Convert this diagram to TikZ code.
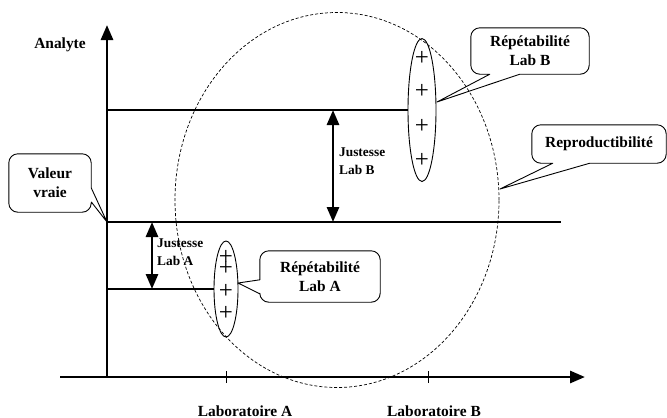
\documentclass[tikz,border=0pt]{standalone}
\usepackage{fontspec}
\setmainfont{Liberation Serif}
\usetikzlibrary{arrows.meta,positioning,calc,shapes.geometric}

\begin{document}
\begin{tikzpicture}[x=1bp, y=-1bp, font=\bfseries\fontsize{15.5}{19}\selectfont,
  axis/.style={line width=2.8bp, -{Triangle[width=12bp,length=15bp]}},
  lvl/.style={line width=1.4bp},
  just/.style={line width=2.8bp,
    {Triangle[width=12bp,length=15bp]}-{Triangle[width=12bp,length=15bp]}},
  jlbl/.style={font=\bfseries\fontsize{13.4}{17.5}\selectfont, align=left,
    anchor=west, inner sep=0pt},
  grp/.style={ellipse, draw, line width=0.9bp, inner sep=0pt},
  pt/.style={font=\fontsize{25}{25}\selectfont, inner sep=0pt},
  bubble/.style={align=center, inner sep=0pt},
  bline/.style={line width=0.9bp, line join=round},
]
\useasboundingbox (0,0) rectangle (667,417);

%% Reproducibility domain
\node[ellipse, draw, densely dashed, line width=0.7bp, minimum width=324bp,
  minimum height=375bp, inner sep=0pt] (repro) at (337,200) {};

%% Axes
\coordinate (O) at (107,377);
\coordinate (ytop) at (107,25);
\coordinate (xl) at (60,377);
\coordinate (xr) at (585,377);
\draw[axis] (O) -- (ytop);
\draw[axis] (xl) -- (xr);
\node (analyte) at (60,45) {Analyte};

%% Ticks and laboratories
\coordinate (tA) at (226,377);
\coordinate (tB) at (428,377);
\draw[line width=0.9bp] ($(tA)+(0,-6)$) -- ($(tA)+(0,6)$);
\draw[line width=0.9bp] ($(tB)+(0,-6)$) -- ($(tB)+(0,6)$);
\node[anchor=base] (labA) at (245,416) {Laboratoire A};
\node[anchor=base] (labB) at (434,416) {Laboratoire B};

%% True value
\coordinate (vv) at (107,222);
\coordinate (vvend) at (561,222);
\draw[line width=2.6bp] (vv) -- (vvend);

%% Lab B results
\node[grp, minimum width=28bp, minimum height=143bp] (ellB) at (422,110) {};
\foreach \y [count=\i] in {58,91,126,160}
  \node[pt] (pB\i) at (422,\y) {+};
\coordinate (mB) at (107,110);
\draw[lvl] (mB) -- (ellB.west);

%% Lab A results
\node[grp, minimum width=24bp, minimum height=96bp] (ellA) at (226,289) {};
\foreach \y [count=\i] in {257,268,291,313}
  \node[pt] (pA\i) at (226,\y) {+};
\coordinate (mA) at (107,289);
\draw[lvl] (mA) -- (ellA.west);

%% Trueness arrows
\coordinate (jB1) at (333,110);
\coordinate (jB2) at (333,222);
\draw[just] (jB1) -- (jB2);
\node[jlbl] (jlB) at (339,161) {Justesse\\Lab B};
\coordinate (jA1) at (152,222);
\coordinate (jA2) at (152,289);
\draw[just] (jA1) -- (jA2);
\node[jlbl] (jlA) at (157,252) {Justesse\\Lab A};

%% Callout: repeatability Lab B
\node[bubble, minimum width=118bp, minimum height=46bp] (repB) at (530,51)
  {Répétabilité\\Lab B};
\coordinate (tipB) at (437,102);
\draw[bline] ($(repB.south west)+(49,0)$) -- (tipB)
  -- ($(repB.south west)+(19,0)$) [rounded corners=9bp] -- (repB.south west)
  -- (repB.north west) -- (repB.north east) -- (repB.south east)
  -- ($(repB.south west)+(49,0)$);

%% Callout: reproducibility
\node[bubble, minimum width=134bp, minimum height=38bp] (reprod) at (599,144)
  {Reproductibilité};
\coordinate (tipR) at (500,189);
\draw[bline] ($(reprod.south west)+(58,0)$) -- (tipR)
  -- ($(reprod.south west)+(21,0)$) [rounded corners=9bp] -- (reprod.south west)
  -- (reprod.north west) -- (reprod.north east) -- (reprod.south east)
  -- ($(reprod.south west)+(58,0)$);

%% Callout: true value
\node[bubble, minimum width=82bp, minimum height=58bp] (vrai) at (50,183)
  {Valeur\\vraie};
\draw[bline] ($(vrai.north east)+(0,48)$) -- (vv)
  -- ($(vrai.north east)+(0,34)$) [rounded corners=9bp] -- (vrai.north east)
  -- (vrai.north west) -- (vrai.south west) -- (vrai.south east)
  -- ($(vrai.north east)+(0,48)$);

%% Callout: repeatability Lab A
\node[bubble, minimum width=120bp, minimum height=51bp] (repA) at (320,276.5)
  {Répétabilité\\Lab A};
\coordinate (tipA) at (238,283);
\draw[bline] ($(repA.north west)+(0,43)$) -- (tipA)
  -- ($(repA.north west)+(0,29)$) [rounded corners=9bp] -- (repA.north west)
  -- (repA.north east) -- (repA.south east) -- (repA.south west)
  -- ($(repA.north west)+(0,43)$);

\end{tikzpicture}
\end{document}
